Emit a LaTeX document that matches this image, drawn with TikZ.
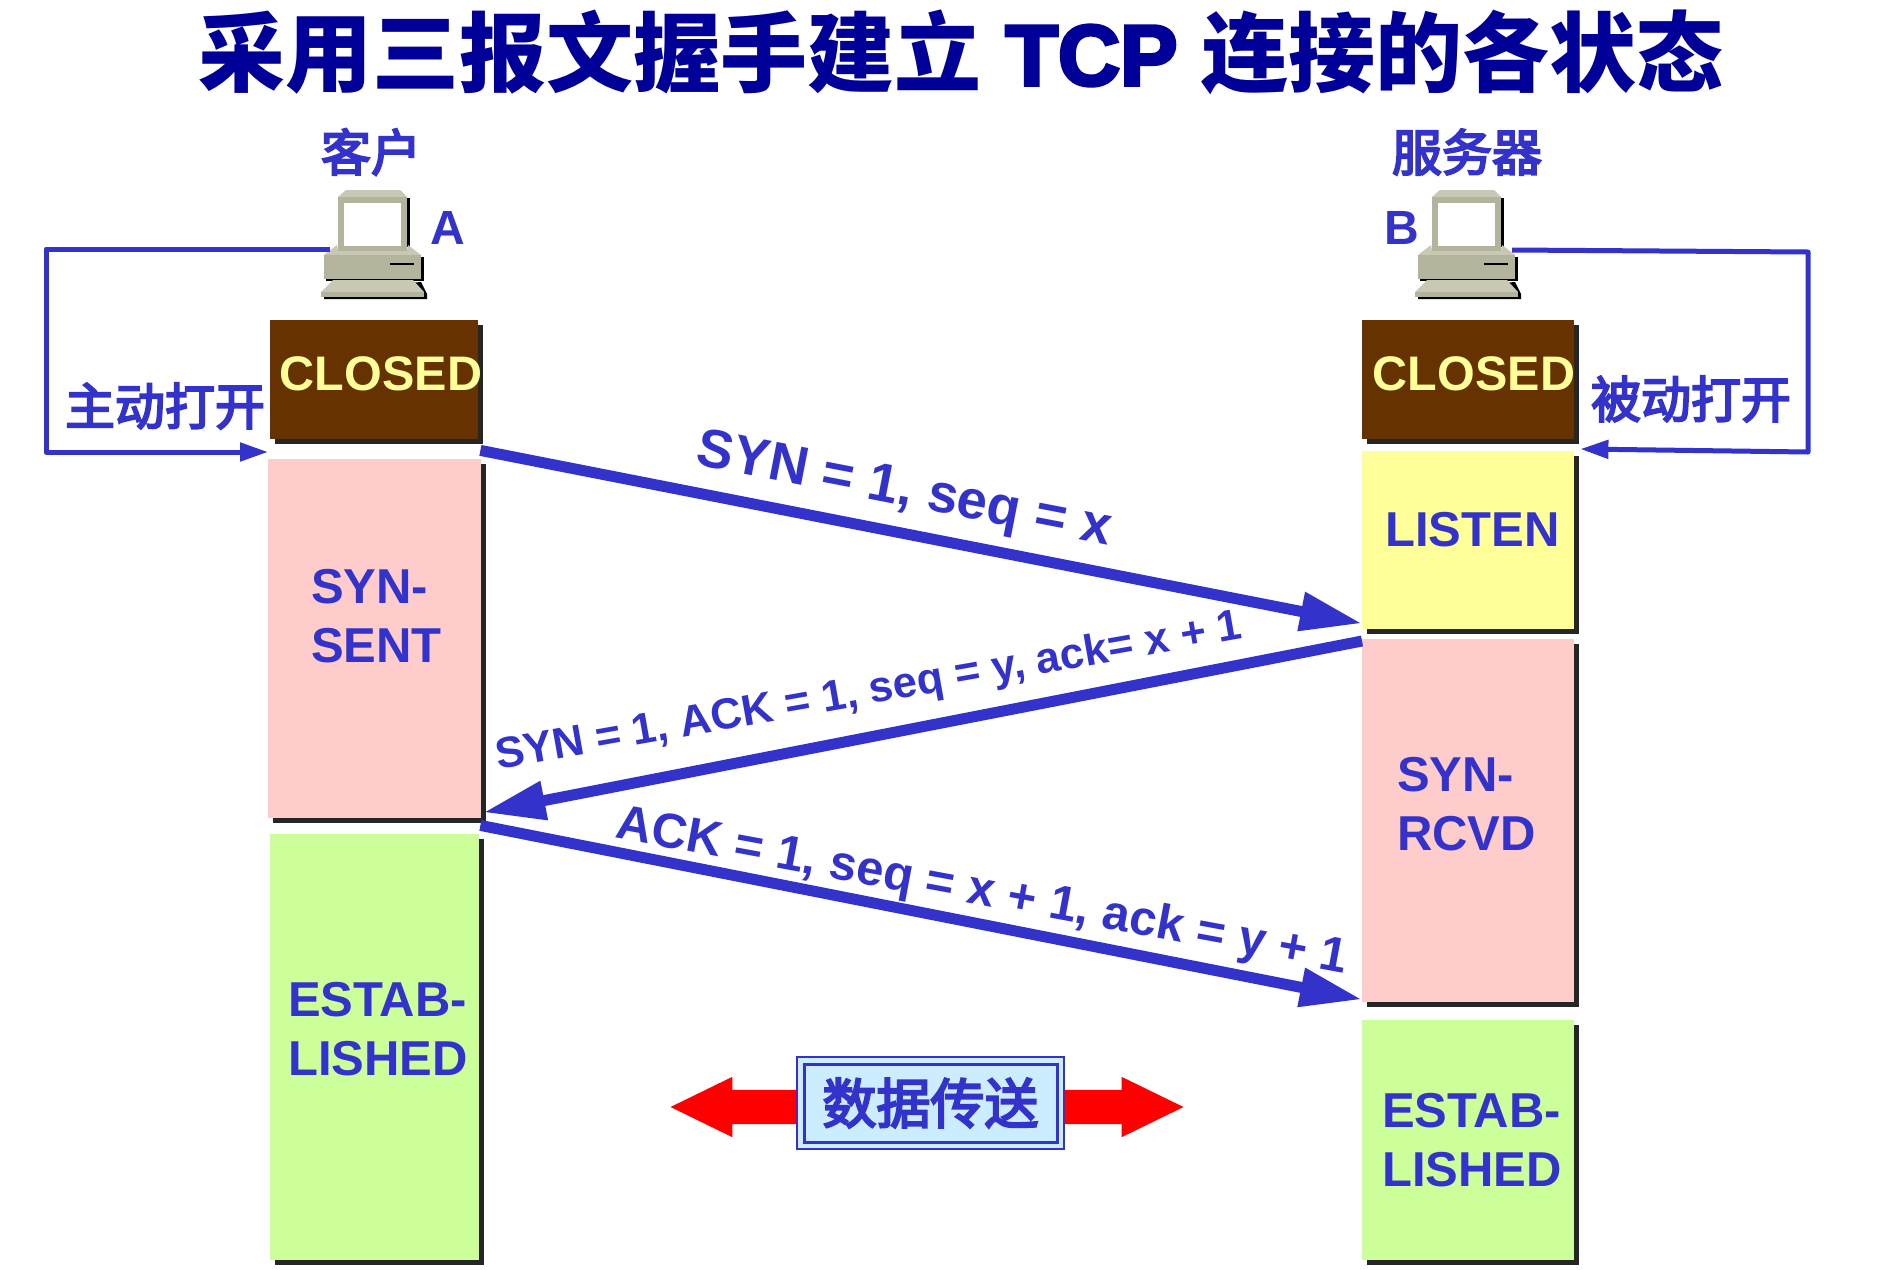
\documentclass[tikz,border=0pt]{standalone}
\usepackage{fontspec}
\setmainfont{Liberation Sans}
\newfontfamily\cjk{Noto Sans CJK SC}
\newfontfamily\cjkside[FakeBold=4]{Noto Sans CJK SC}
\newfontfamily\titlelatin[FakeBold=4]{Liberation Sans}
\usetikzlibrary{arrows.meta,shapes.arrows,shadows}

\definecolor{labelblue}{HTML}{3333CC}
\definecolor{titleblue}{HTML}{000099}
\definecolor{closedbrown}{HTML}{663300}
\definecolor{closedtext}{HTML}{FFFF99}
\definecolor{listenyellow}{HTML}{FFFF99}
\definecolor{synpink}{HTML}{FFCCCC}
\definecolor{estabgreen}{HTML}{CCFF99}
\definecolor{databox}{HTML}{CCECFF}
\definecolor{pcfront}{HTML}{B4B49C}
\definecolor{pctop}{HTML}{C8C8B4}

\tikzset{
  statebox/.style={anchor=north west,inner sep=0pt,
    general shadow={shadow xshift=5pt,shadow yshift=-5pt,fill=black!85}},
  statetext/.style={anchor=west,align=left,inner sep=0pt,text=labelblue,
    font=\bfseries\fontsize{49}{59}\selectfont},
  closedtext/.style={inner sep=0pt,text=closedtext,font=\bfseries\fontsize{48.5}{59}\selectfont},
  sidetext/.style={inner sep=0pt,text=labelblue,font=\cjkside\fontsize{50}{56}\selectfont},
  hosttext/.style={inner sep=0pt,text=labelblue,font=\bfseries\fontsize{48}{56}\selectfont},
  msgtext/.style={inner sep=0pt,text=labelblue},
  openline/.style={draw=labelblue,line width=5pt,line join=round,
    -{Triangle[length=28pt,width=18pt]}},
  msgline/.style={draw=labelblue,line width=11pt,
    -{Triangle[length=62pt,width=37pt]}},
  pcicon/.pic={
    % shadows first, then monitor, case and keyboard
    \fill[black] (80,8) -- (89,8) -- (89,57) -- (80,57) -- cycle;
    \fill[black] (5,67) -- (103,67) -- (103,91) -- (5,91) -- cycle;
    \fill[black] (3,100) -- (100,92) -- (106,104) -- (106,109) -- (3,109) -- cycle;
    \fill[pctop] (17,7) -- (25,0) -- (79,0) -- (86,7) -- cycle;
    \fill[pcfront] (17,7) rectangle (86,61);
    \fill[white] (23,13) rectangle (80,56);
    \fill[pctop] (3,65) -- (16,55) -- (17,61) -- (86,61) -- (87,55) -- (100,65) -- cycle;
    \fill[pcfront] (3,65) rectangle (100,89);
    \draw[black,line width=2pt] (69,74) -- (93,74);
    \fill[pctop] (0,102) -- (12,90) -- (92,90) -- (103,102) -- cycle;
    \fill[pcfront] (0,102) -- (103,102) -- (103,107) -- (0,107) -- cycle;
    \coordinate (-west) at (9,59);
    \coordinate (-east) at (97,60);
  }
}

\begin{document}
\begin{tikzpicture}[x=1pt,y=-1pt]
    \useasboundingbox (0,0) rectangle (1878,1269);

    \node[inner sep=0pt,text=titleblue,font=\bfseries\fontsize{87}{92}\selectfont] (title) at (961,52)
      {{\cjk 采用三报文握手建立} {\titlelatin\bfseries\fontsize{86}{92}\selectfont TCP} {\cjk 连接的各状态}};

    \node[sidetext] (clientname) at (371,152) {客户};
    \node[sidetext] (servername) at (1467,152) {服务器};
    \node[hosttext] (hostA) at (448,228) {A};
    \node[hosttext] (hostB) at (1402,228) {B};

    % client column
    \node[statebox,fill=closedbrown,minimum width=208pt,minimum height=119pt] (closedA) at (270,320) {};
    \node[statebox,fill=synpink,minimum width=213pt,minimum height=359pt] (synsent) at (268,459) {};
    \node[statebox,fill=estabgreen,minimum width=209pt,minimum height=426pt] (estabA) at (270,834) {};
    \node[closedtext] (closedAtext) at (381,374) {CLOSED};
    \node[statetext] (synsenttext) at (311,616) {SYN-\\SENT};
    \node[statetext] (estabAtext) at (288,1029) {ESTAB-\\LISHED};

    % server column
    \node[statebox,fill=closedbrown,minimum width=212pt,minimum height=119pt] (closedB) at (1362,320) {};
    \node[statebox,fill=listenyellow,minimum width=212pt,minimum height=178pt] (listen) at (1362,451) {};
    \node[statebox,fill=synpink,minimum width=212pt,minimum height=363pt] (synrcvd) at (1362,639) {};
    \node[statebox,fill=estabgreen,minimum width=212pt,minimum height=240pt] (estabB) at (1362,1020) {};
    \node[closedtext] (closedBtext) at (1474,374) {CLOSED};
    \node[statetext] (listentext) at (1385,530) {LISTEN};
    \node[statetext] (synrcvdtext) at (1397,804) {SYN-\\RCVD};
    \node[statetext] (estabBtext) at (1382,1140) {ESTAB-\\LISHED};

    \pic (pcA) at (321,190) {pcicon};
    \pic (pcB) at (1415,190) {pcicon};

    % active and passive open
    \node[sidetext] (activeopen) at (165,406) {主动打开};
    \node[sidetext] (passiveopen) at (1691,399) {被动打开};
    \draw[openline] (pcA-west) -- (46,249) -- (46,452) -- ([shift={(0,-7)}]synsent.north west);
    \draw[openline] (pcB-east) -- (1808,252) -- (1808,452) -- ([shift={(6,-2)}]listen.north east);

    % three-way handshake
    \draw[msgline] ([shift={(2,11)}]closedA.south east) -- ([shift={(0,-6)}]listen.south west);
    \draw[msgline] ([shift={(0,2)}]synrcvd.north west) -- ([shift={(2,-6)}]synsent.south east);
    \draw[msgline] ([shift={(-1,7)}]synsent.south east) -- ([shift={(0,-3)}]synrcvd.south west);
    \node[msgtext,font=\bfseries\fontsize{54.5}{58}\selectfont,rotate=-11] (synmsg) at (904,492) {SYN = 1, seq = x};
    \node[msgtext,font=\bfseries\fontsize{43.5}{48}\selectfont,rotate=10] (synackmsg) at (869,693) {SYN = 1, ACK = 1, seq = y, ack= x + 1};
    \node[msgtext,font=\bfseries\fontsize{49}{52}\selectfont,rotate=-10.5] (ackmsg) at (982,893) {ACK = 1, seq = x + 1, ack = y + 1};

    % data transfer
    \node[double arrow,fill=red,inner sep=0pt,text height=34pt,text depth=0pt,minimum width=60pt,minimum height=513pt,
      double arrow head extend=13pt,double arrow tip angle=52] (dataflow) at (927,1107) {};
    \node[draw=labelblue,line width=2.5pt,fill=databox,minimum width=267pt,minimum height=92pt,inner sep=0pt] (databoxouter) at (930.5,1103) {};
    \node[draw=labelblue,line width=3pt,minimum width=253pt,minimum height=78pt,inner sep=0pt,
      sidetext,font=\cjkside\fontsize{54}{60}\selectfont] (datatext) at (930.5,1103) {数据传送};
\end{tikzpicture}
\end{document}
